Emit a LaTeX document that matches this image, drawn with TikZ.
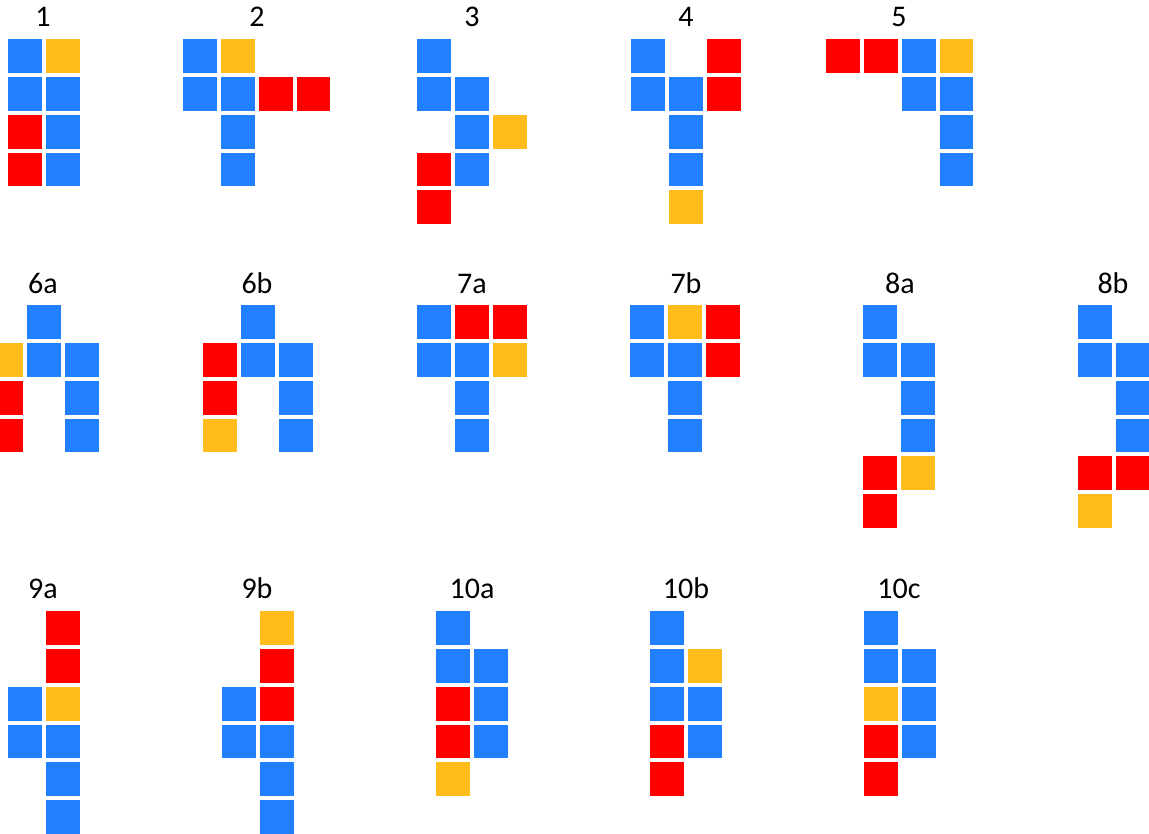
\documentclass[tikz,border=0pt]{standalone}
\usepackage{fontspec}
\setmainfont{Carlito}

\definecolor{cb}{RGB}{33,128,255}
\definecolor{cr}{RGB}{255,0,0}
\definecolor{cy}{RGB}{255,188,26}

\tikzset{
  cell/.style={rectangle, fill=#1, minimum size=33.8pt, inner sep=0pt, anchor=north west},
  figlabel/.style={font=\fontsize{30}{32}\selectfont, anchor=base, inner sep=0pt},
}

% one piece: name, top-left corner, cells as col/row/colour
\newcommand{\drawpiece}[4]{
  \foreach \cx/\ry/\kind in {#4}
    \node[cell=\kind] (#1-\cx-\ry) at (#2+\cx*37.8, #3+\ry*37.8) {};
}

\begin{document}
\begin{tikzpicture}[x=1pt, y=-1pt]
  \useasboundingbox (0,0) rectangle (1149,834);

  % Top row
  \node[figlabel] (lab1) at (43,27) {1};
  \node[figlabel] (lab2) at (257,27) {2};
  \node[figlabel] (lab3) at (472,27) {3};
  \node[figlabel] (lab4) at (686,27) {4};
  \node[figlabel] (lab5) at (899,27) {5};
  \drawpiece{p1}{8}{39}{0/0/cb, 1/0/cy, 0/1/cb, 1/1/cb, 0/2/cr, 1/2/cb, 0/3/cr, 1/3/cb}
  \drawpiece{p2}{183}{39}{0/0/cb, 1/0/cy, 0/1/cb, 1/1/cb, 2/1/cr, 3/1/cr, 1/2/cb, 1/3/cb}
  \drawpiece{p3}{417}{39}{0/0/cb, 0/1/cb, 1/1/cb, 1/2/cb, 2/2/cy, 0/3/cr, 1/3/cb, 0/4/cr}
  \drawpiece{p4}{631}{39}{0/0/cb, 2/0/cr, 0/1/cb, 1/1/cb, 2/1/cr, 1/2/cb, 1/3/cb, 1/4/cy}
  \drawpiece{p5}{826}{39}{0/0/cr, 1/0/cr, 2/0/cb, 3/0/cy, 2/1/cb, 3/1/cb, 3/2/cb, 3/3/cb}

  % Middle row
  \node[figlabel] (lab6a) at (43,294) {6a};
  \node[figlabel] (lab6b) at (257,294) {6b};
  \node[figlabel] (lab7a) at (472,294) {7a};
  \node[figlabel] (lab7b) at (686,294) {7b};
  \node[figlabel] (lab8a) at (900,294) {8a};
  \node[figlabel] (lab8b) at (1113,294) {8b};
  \drawpiece{p6a}{-11}{305}{1/0/cb, 0/1/cy, 1/1/cb, 2/1/cb, 0/2/cr, 2/2/cb, 0/3/cr, 2/3/cb}
  \drawpiece{p6b}{203}{305}{1/0/cb, 0/1/cr, 1/1/cb, 2/1/cb, 0/2/cr, 2/2/cb, 0/3/cy, 2/3/cb}
  \drawpiece{p7a}{417}{305}{0/0/cb, 1/0/cr, 2/0/cr, 0/1/cb, 1/1/cb, 2/1/cy, 1/2/cb, 1/3/cb}
  \drawpiece{p7b}{630}{305}{0/0/cb, 1/0/cy, 2/0/cr, 0/1/cb, 1/1/cb, 2/1/cr, 1/2/cb, 1/3/cb}
  \drawpiece{p8a}{863}{305}{0/0/cb, 0/1/cb, 1/1/cb, 1/2/cb, 1/3/cb, 0/4/cr, 1/4/cy, 0/5/cr}
  \drawpiece{p8b}{1078}{305}{0/0/cb, 0/1/cb, 1/1/cb, 1/2/cb, 1/3/cb, 0/4/cr, 1/4/cr, 0/5/cy}

  % Bottom row
  \node[figlabel] (lab9a) at (43,598) {9a};
  \node[figlabel] (lab9b) at (257,598) {9b};
  \node[figlabel] (lab10a) at (472,598) {10a};
  \node[figlabel] (lab10b) at (686,598) {10b};
  \node[figlabel] (lab10c) at (899,598) {10c};
  \drawpiece{p9a}{8}{611}{1/0/cr, 1/1/cr, 0/2/cb, 1/2/cy, 0/3/cb, 1/3/cb, 1/4/cb, 1/5/cb}
  \drawpiece{p9b}{222}{611}{1/0/cy, 1/1/cr, 0/2/cb, 1/2/cr, 0/3/cb, 1/3/cb, 1/4/cb, 1/5/cb}
  \drawpiece{p10a}{436}{611}{0/0/cb, 0/1/cb, 1/1/cb, 0/2/cr, 1/2/cb, 0/3/cr, 1/3/cb, 0/4/cy}
  \drawpiece{p10b}{650}{611}{0/0/cb, 0/1/cb, 1/1/cy, 0/2/cb, 1/2/cb, 0/3/cr, 1/3/cb, 0/4/cr}
  \drawpiece{p10c}{864}{611}{0/0/cb, 0/1/cb, 1/1/cb, 0/2/cy, 1/2/cb, 0/3/cr, 1/3/cb, 0/4/cr}
\end{tikzpicture}
\end{document}
